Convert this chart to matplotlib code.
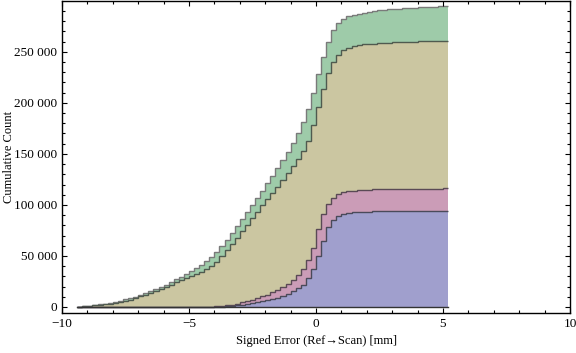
import numpy as np
import matplotlib
matplotlib.use("Agg")
from matplotlib import pyplot as plt
from matplotlib.ticker import MultipleLocator, FuncFormatter

# bin edges of the cumulative histograms (mm)
edges = np.round(np.arange(-9.4, 5.2001, 0.2), 2)

# cumulative counts per bin, in thousands
all_pts = [0.3, 0.8, 1.2, 1.8, 2.5, 3.2, 4.0, 5.0, 6.2, 7.5,
           8.8, 10.2, 11.8, 13.5, 15.5, 17.5, 19.8, 22.0, 24.5, 27.0,
           29.5, 32.0, 35.0, 38.0, 41.0, 45.0, 49.0, 54.0, 60.0, 66.0,
           72.0, 79.0, 86.0, 93.0, 100.0, 107.0, 114.0, 121.0, 128.0, 136.0,
           144.0, 152.0, 161.0, 170.0, 181.0, 194.0, 210.0, 228.0, 245.0, 260.0,
           271.0, 278.0, 282.0, 285.0, 286.5, 287.5, 288.5, 289.2, 289.8, 290.5,
           291.0, 291.5, 292.0, 292.3, 292.6, 293.0, 293.3, 293.6, 293.9, 294.1,
           294.3, 294.5, 294.7]
surface = [0.1, 0.5, 1.0, 1.5, 2.0, 2.6, 3.3, 4.1, 5.0, 6.0,
           7.2, 8.7, 10.3, 12.0, 14.0, 16.0, 18.0, 20.0, 22.0, 24.0,
           26.0, 28.0, 30.0, 32.0, 34.0, 37.0, 40.5, 44.5, 50.0, 56.0,
           62.0, 68.0, 74.0, 80.5, 87.0, 93.0, 99.5, 106.0, 112.0, 118.0,
           124.5, 131.0, 138.0, 145.0, 153.0, 163.0, 178.0, 196.0, 214.0, 229.0,
           240.0, 247.0, 251.5, 254.0, 255.5, 256.5, 257.2, 257.7, 258.1, 258.5,
           258.8, 259.1, 259.4, 259.6, 259.8, 260.0, 260.1, 260.2, 260.3, 260.4,
           260.5, 260.6, 260.7]
region_a = [0, 0, 0, 0, 0, 0, 0, 0, 0, 0,
            0, 0, 0, 0, 0, 0, 0, 0, 0, 0,
            0, 0, 0, 0, 0, 0.1, 0.3, 0.6, 1.0, 1.5,
            2.2, 3.2, 4.4, 5.6, 7.0, 8.6, 10.3, 12.2, 14.2, 16.5,
            19.2, 22.5, 26.5, 31.0, 37.0, 46.0, 58.0, 76.0, 91.0, 101.0,
            107.0, 110.5, 112.3, 113.3, 114.0, 114.5, 114.8, 115.0, 115.2, 115.3,
            115.4, 115.5, 115.6, 115.7, 115.7, 115.8, 115.8, 115.9, 115.9, 116.0,
            116.0, 116.0, 116.1]
region_b = [0, 0, 0, 0, 0, 0, 0, 0, 0, 0,
            0, 0, 0, 0, 0, 0, 0, 0, 0, 0,
            0, 0, 0, 0, 0, 0.0, 0.1, 0.2, 0.4, 0.7,
            1.1, 1.6, 2.2, 2.9, 3.7, 4.6, 5.6, 6.7, 7.9, 9.2,
            10.8, 12.8, 15.2, 18.2, 22.0, 28.0, 37.0, 50.0, 65.0, 78.0,
            85.5, 89.5, 91.5, 92.3, 92.8, 93.1, 93.3, 93.5, 93.6, 93.7,
            93.8, 93.9, 94.0, 94.0, 94.1, 94.1, 94.2, 94.2, 94.3, 94.3,
            94.4, 94.4, 94.5]

series = [all_pts, surface, region_a, region_b]
fills = ["#9ecba9", "#cbc6a1", "#cb9cb7", "#a09fcd"]
lines = ["#7a7a7a", "#4f5a4f", "#5a4a55", "#4a4a5a"]

plt.rcParams["font.family"] = ["Liberation Serif", "DejaVu Serif"]

fig = plt.figure(figsize=(5.76, 3.53), dpi=100)
ax = fig.add_axes([62 / 576, 40 / 353, 508 / 576, 312 / 353])

for vals, fc, lc in zip(series, fills, lines):
    v = np.array(vals) * 1000
    ax.stairs(v, edges, fill=True, color=fc, baseline=0, linewidth=0)
    ax.stairs(v, edges, color=lc, linewidth=1.0, baseline=None)

# zero line under the curves
ax.plot([edges[0], edges[-1]], [0, 0], color="#333333", linewidth=1.0)

ax.set_xlim(-10, 10)
ax.set_ylim(-5900, 299800)

ax.xaxis.set_major_locator(MultipleLocator(5))
ax.xaxis.set_minor_locator(MultipleLocator(1))
ax.yaxis.set_major_locator(MultipleLocator(50000))
ax.yaxis.set_minor_locator(MultipleLocator(10000))

ax.yaxis.set_major_formatter(FuncFormatter(lambda y, p: f"{int(y):,}".replace(",", " ")))
ax.xaxis.set_major_formatter(FuncFormatter(lambda x, p: f"{int(x)}".replace("-", "\u2212")))

ax.tick_params(which="both", direction="in", top=True, right=True, labelsize=9.5, width=0.8)
ax.tick_params(which="major", length=3.5)
ax.tick_params(which="minor", length=2)
for s in ax.spines.values():
    s.set_linewidth(1.0)

ax.set_xlabel("Signed Error (Ref\u2192Scan) [mm]", fontsize=9)
ax.set_ylabel("Cumulative Count", fontsize=9)
ax.yaxis.set_label_coords(-0.092, 0.5)

fig.savefig("out.png", dpi=100)
